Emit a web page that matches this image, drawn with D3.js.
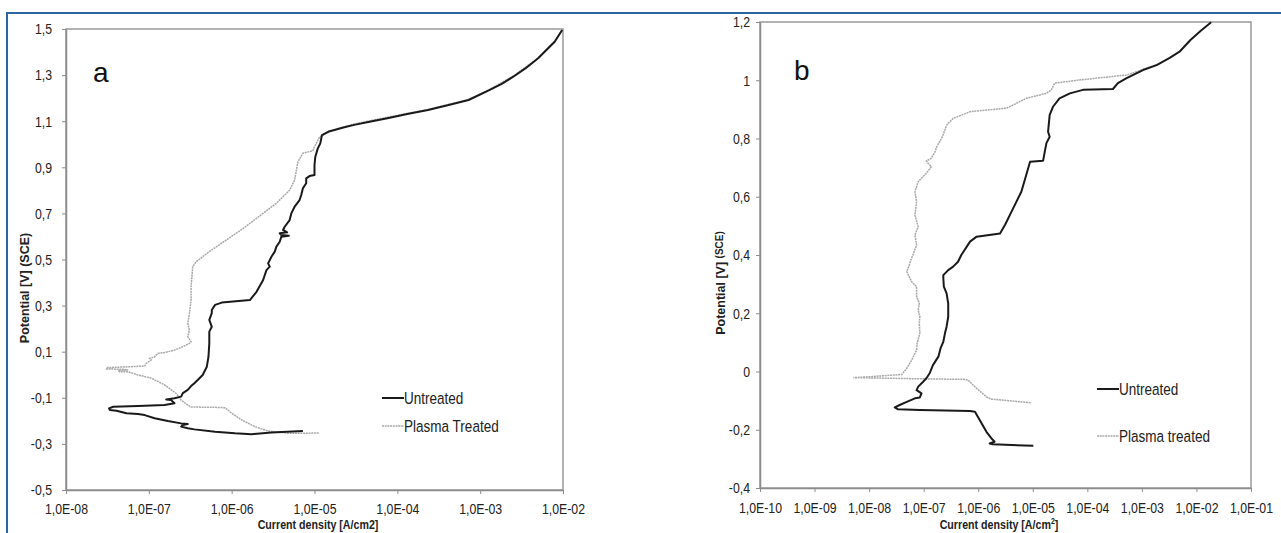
<!DOCTYPE html>
<html>
  <head>
    <meta charset="utf-8">
    <title>Polarization curves</title>
    <style>
      body { margin: 0; background: #fff; }
      .tick text { font-family: "Liberation Sans", Arial, sans-serif; font-size: 15px; fill: #222; }
    </style>
  </head>
  <body>
    <div id="container"></div>
    <script src="https://d3js.org/d3.v7.min.js"></script>
    <script>

      // DATA : [log10 current density (A/cm2), potential (V vs SCE)]
      var untreatedA = [[-5.14,-0.244],[-5.52,-0.251],[-5.76,-0.258],[-5.96,-0.254],[-6.20,-0.247],[-6.45,-0.237],[-6.53,-0.232],[-6.61,-0.225],[-6.59,-0.218],[-6.53,-0.214],[-6.61,-0.211],[-6.77,-0.201],[-6.93,-0.189],[-7.05,-0.175],[-7.13,-0.170],[-7.27,-0.167],[-7.39,-0.156],[-7.47,-0.153],[-7.48,-0.146],[-7.43,-0.139],[-7.13,-0.136],[-6.81,-0.131],[-6.69,-0.124],[-6.73,-0.110],[-6.79,-0.107],[-6.69,-0.102],[-6.61,-0.095],[-6.59,-0.080],[-6.53,-0.066],[-6.49,-0.049],[-6.45,-0.037],[-6.41,-0.023],[-6.35,-0.001],[-6.30,0.035],[-6.28,0.078],[-6.27,0.136],[-6.27,0.187],[-6.24,0.208],[-6.27,0.238],[-6.24,0.267],[-6.24,0.281],[-6.20,0.303],[-6.12,0.313],[-5.78,0.324],[-5.70,0.360],[-5.62,0.411],[-5.60,0.433],[-5.58,0.454],[-5.54,0.469],[-5.56,0.483],[-5.52,0.512],[-5.48,0.534],[-5.46,0.556],[-5.42,0.577],[-5.40,0.599],[-5.31,0.603],[-5.40,0.606],[-5.42,0.614],[-5.33,0.618],[-5.38,0.628],[-5.36,0.642],[-5.30,0.671],[-5.28,0.700],[-5.24,0.729],[-5.18,0.758],[-5.16,0.780],[-5.14,0.809],[-5.10,0.831],[-5.10,0.852],[-5.06,0.862],[-5.00,0.867],[-5.00,0.910],[-4.99,0.946],[-4.96,0.982],[-4.93,1.004],[-4.91,1.040],[-4.83,1.055],[-4.76,1.062],[-4.64,1.074],[-4.52,1.084],[-4.32,1.099],[-4.12,1.113],[-3.88,1.131],[-3.63,1.149],[-3.38,1.170],[-3.14,1.192],[-2.89,1.235],[-2.74,1.262],[-2.60,1.293],[-2.45,1.330],[-2.30,1.373],[-2.10,1.445],[-2.01,1.496]];
      var plasmaA = [[-4.95,-0.253],[-5.32,-0.254],[-5.56,-0.244],[-5.72,-0.225],[-5.88,-0.196],[-6.00,-0.167],[-6.08,-0.143],[-6.24,-0.141],[-6.49,-0.140],[-6.53,-0.131],[-6.61,-0.110],[-6.67,-0.081],[-6.81,-0.044],[-6.97,-0.015],[-7.13,-0.001],[-7.25,0.013],[-7.35,0.013],[-7.37,0.018],[-7.25,0.021],[-7.33,0.024],[-7.51,0.025],[-7.51,0.031],[-7.21,0.035],[-7.05,0.038],[-7.03,0.050],[-6.97,0.064],[-6.99,0.071],[-6.93,0.078],[-6.89,0.093],[-6.81,0.096],[-6.69,0.107],[-6.59,0.122],[-6.51,0.136],[-6.49,0.143],[-6.53,0.165],[-6.51,0.194],[-6.53,0.223],[-6.51,0.267],[-6.49,0.324],[-6.49,0.382],[-6.47,0.469],[-6.43,0.490],[-6.27,0.534],[-5.86,0.635],[-5.46,0.744],[-5.30,0.801],[-5.24,0.845],[-5.20,0.924],[-5.14,0.961],[-5.02,0.972],[-5.00,0.989],[-4.94,1.030],[-4.86,1.047],[-4.71,1.069],[-4.52,1.088],[-4.12,1.117],[-3.63,1.151],[-3.14,1.194],[-2.89,1.237],[-2.60,1.296],[-2.30,1.374],[-2.10,1.448],[-2.01,1.496]];
      var untreatedB = [[-4.99,-0.255],[-5.73,-0.250],[-5.79,-0.247],[-5.70,-0.241],[-5.76,-0.229],[-5.85,-0.207],[-5.97,-0.167],[-6.06,-0.138],[-6.15,-0.136],[-7.07,-0.132],[-7.47,-0.130],[-7.53,-0.123],[-7.44,-0.115],[-7.31,-0.104],[-7.16,-0.092],[-7.07,-0.089],[-7.04,-0.075],[-7.13,-0.064],[-7.10,-0.052],[-7.01,-0.035],[-6.95,-0.023],[-6.89,-0.006],[-6.83,0.022],[-6.73,0.051],[-6.69,0.080],[-6.64,0.102],[-6.61,0.131],[-6.58,0.154],[-6.55,0.188],[-6.55,0.234],[-6.58,0.268],[-6.63,0.291],[-6.64,0.321],[-6.64,0.331],[-6.55,0.348],[-6.46,0.360],[-6.37,0.377],[-6.31,0.400],[-6.15,0.446],[-6.03,0.463],[-5.60,0.474],[-5.51,0.503],[-5.36,0.560],[-5.21,0.617],[-5.12,0.675],[-5.05,0.720],[-4.81,0.724],[-4.78,0.755],[-4.75,0.784],[-4.69,0.806],[-4.72,0.823],[-4.69,0.881],[-4.63,0.909],[-4.51,0.938],[-4.32,0.955],[-4.08,0.967],[-3.53,0.970],[-3.44,0.990],[-3.28,1.007],[-2.98,1.035],[-2.73,1.052],[-2.49,1.077],[-2.31,1.098],[-2.11,1.138],[-1.92,1.170],[-1.73,1.199]];
      var plasmaB = [[-5.04,-0.107],[-5.76,-0.095],[-5.85,-0.087],[-6.03,-0.058],[-6.19,-0.029],[-6.28,-0.027],[-7.07,-0.025],[-7.68,-0.023],[-8.29,-0.021],[-7.99,-0.018],[-7.40,-0.010],[-7.31,0.011],[-7.22,0.039],[-7.13,0.074],[-7.12,0.097],[-7.07,0.131],[-7.08,0.166],[-7.07,0.188],[-7.10,0.211],[-7.08,0.234],[-7.13,0.257],[-7.13,0.291],[-7.22,0.308],[-7.31,0.343],[-7.22,0.389],[-7.13,0.434],[-7.16,0.469],[-7.10,0.497],[-7.16,0.537],[-7.13,0.583],[-7.16,0.617],[-7.10,0.652],[-6.95,0.681],[-6.86,0.703],[-6.92,0.715],[-6.95,0.723],[-6.86,0.732],[-6.79,0.755],[-6.76,0.772],[-6.67,0.801],[-6.61,0.829],[-6.58,0.846],[-6.46,0.869],[-6.15,0.892],[-5.48,0.904],[-5.36,0.915],[-5.12,0.938],[-4.75,0.955],[-4.66,0.967],[-4.60,0.990],[-4.14,1.001],[-3.28,1.018],[-3.10,1.029],[-2.98,1.037],[-2.73,1.054]];

      // AXES TICKS & LABELS
      var xExpA = [-8, -7, -6, -5, -4, -3, -2];
      var yTicksA = [-0.5, -0.3, -0.1, 0.1, 0.3, 0.5, 0.7, 0.9, 1.1, 1.3, 1.5];
      var yLabelsA = ["-0,5", "-0,3", "-0,1", "0,1", "0,3", "0,5", "0,7", "0,9", "1,1", "1,3", "1,5"];
      var xExpB = [-10, -9, -8, -7, -6, -5, -4, -3, -2, -1];
      var yTicksB = [-0.4, -0.2, 0, 0.2, 0.4, 0.6, 0.8, 1, 1.2];
      var yLabelsB = ["-0,4", "-0,2", "0", "0,2", "0,4", "0,6", "0,8", "1", "1,2"];
      var seriesNamesA = ["Untreated", "Plasma Treated"];
      var seriesNamesB = ["Untreated", "Plasma treated"];

      var NARROW = 0.82; // horizontal squeeze to mimic a condensed face

      var svg = d3.select("#container")
        .append("svg")
        .attr("width", 1281)
        .attr("height", 533);

      // BLUE FRAME (top + left)
      svg.append("path")
        .attr("d", "M7,533 V13 H1281")
        .attr("fill", "none")
        .attr("stroke", "#2b66a0")
        .attr("stroke-width", 2);

      var panels = [
        { tag: "a", left: 66, right: 563, top: 29, bottom: 490, xExp: xExpA, yTicks: yTicksA, yLabels: yLabelsA,
          yPad: 10, xPad: 9, untreated: untreatedA, plasma: plasmaA, names: seriesNamesA,
          tagX: 93, tagY: 82, yTitleX: 29, yTitleY: 288, xTitleX: 318, legX: 382, legY: [398, 426], sup: false },
        { tag: "b", left: 760, right: 1251, top: 22, bottom: 488, xExp: xExpB, yTicks: yTicksB, yLabels: yLabelsB,
          yPad: 6, xPad: 10, untreated: untreatedB, plasma: plasmaB, names: seriesNamesB,
          tagX: 794, tagY: 80, yTitleX: 725, yTitleY: 283, xTitleX: 999, legX: 1097, legY: [389, 436], sup: true }
      ];

      panels.forEach(function (p) {
        var x = d3.scaleLog()
          .domain([Math.pow(10, p.xExp[0]), Math.pow(10, p.xExp[p.xExp.length - 1])])
          .range([p.left, p.right]);
        var y = d3.scaleLinear()
          .domain([p.yTicks[0], p.yTicks[p.yTicks.length - 1]])
          .range([p.bottom, p.top]);

        // PLOT FRAME
        svg.append("rect")
          .attr("x", p.left).attr("y", p.top)
          .attr("width", p.right - p.left).attr("height", p.bottom - p.top)
          .attr("fill", "none").attr("stroke", "#9a9a9a").attr("stroke-width", 1.5);

        // X AXIS
        var gx = svg.append("g")
          .attr("transform", "translate(0," + p.bottom + ")")
          .call(d3.axisBottom(x)
            .tickValues(p.xExp.map(e => Math.pow(10, e)))
            .tickFormat(d => "1,0E-" + String(-Math.round(Math.log10(d))).padStart(2, "0"))
            .tickSize(4).tickSizeOuter(0).tickPadding(p.xPad));
        gx.select(".domain").attr("stroke", "#8c8c8c").attr("stroke-width", 1.5);
        gx.selectAll(".tick line").attr("stroke", "#8c8c8c");
        gx.selectAll(".tick text").attr("transform", "scale(" + NARROW + ",1)");

        // Y AXIS
        var gy = svg.append("g")
          .attr("transform", "translate(" + p.left + ",0)")
          .call(d3.axisLeft(y)
            .tickValues(p.yTicks)
            .tickFormat((d, i) => p.yLabels[i])
            .tickSize(4).tickSizeOuter(0).tickPadding(p.yPad));
        gy.select(".domain").attr("stroke", "#8c8c8c").attr("stroke-width", 1.5);
        gy.selectAll(".tick line").attr("stroke", "#8c8c8c");
        gy.selectAll(".tick text")
          .attr("x", -(4 + p.yPad) / NARROW)
          .attr("transform", "scale(" + NARROW + ",1)");

        // CURVES
        var line = d3.line()
          .x(d => x(Math.pow(10, d[0])))
          .y(d => y(d[1]));
        svg.append("path")
          .datum(p.plasma)
          .attr("fill", "none")
          .attr("stroke", "#a8a8a8")
          .attr("stroke-width", 1.5)
          .attr("stroke-dasharray", "2,0.7")
          .attr("d", line);
        svg.append("path")
          .datum(p.untreated)
          .attr("fill", "none")
          .attr("stroke", "#1a1a1a")
          .attr("stroke-width", 2)
          .attr("stroke-linejoin", "round")
          .attr("d", line);

        // PANEL LETTER
        svg.append("text")
          .attr("x", p.tagX).attr("y", p.tagY)
          .attr("font-family", "Liberation Sans, Arial, sans-serif")
          .attr("font-size", 28)
          .attr("fill", "#111")
          .text(p.tag);

        // AXIS TITLES
        var yt = svg.append("text")
          .attr("transform", "translate(" + p.yTitleX + "," + p.yTitleY + ") rotate(-90)")
          .attr("text-anchor", "middle")
          .attr("font-family", "Liberation Sans, Arial, sans-serif")
          .attr("font-weight", "bold")
          .attr("font-size", 12.5)
          .attr("fill", "#222");
        if (p.sup) {
          yt.append("tspan").text("Potential  [V] ");
          yt.append("tspan").attr("font-size", 10).attr("dy", -2).text("(SCE)");
        } else {
          yt.text("Potential [V] (SCE)");
        }

        var xt = svg.append("text")
          .attr("transform", "translate(" + p.xTitleX + ",529) scale(" + NARROW + ",1)")
          .attr("text-anchor", "middle")
          .attr("font-family", "Liberation Sans, Arial, sans-serif")
          .attr("font-weight", "bold")
          .attr("font-size", 13)
          .attr("fill", "#222");
        if (p.sup) {
          xt.append("tspan").text("Current density [A/cm");
          xt.append("tspan").attr("font-size", 8.5).attr("dy", -5).text("2");
          xt.append("tspan").attr("dy", 5).text("]");
        } else {
          xt.text("Current density [A/cm2]");
        }

        // LEGEND
        var styles = [{ c: "#1a1a1a", w: 2, dash: null }, { c: "#a8a8a8", w: 1.5, dash: "2,0.7" }];
        p.names.forEach(function (name, i) {
          svg.append("line")
            .attr("x1", p.legX).attr("x2", p.legX + 22)
            .attr("y1", p.legY[i]).attr("y2", p.legY[i])
            .attr("stroke", styles[i].c)
            .attr("stroke-width", styles[i].w)
            .attr("stroke-dasharray", styles[i].dash);
          svg.append("text")
            .attr("transform", "translate(" + (p.legX + 22) + "," + p.legY[i] + ") scale(" + NARROW + ",1)")
            .attr("dy", "0.36em")
            .attr("font-family", "Liberation Sans, Arial, sans-serif")
            .attr("font-size", 16.5)
            .attr("fill", "#222")
            .text(name);
        });
      });

    </script>
  </body>
</html>
